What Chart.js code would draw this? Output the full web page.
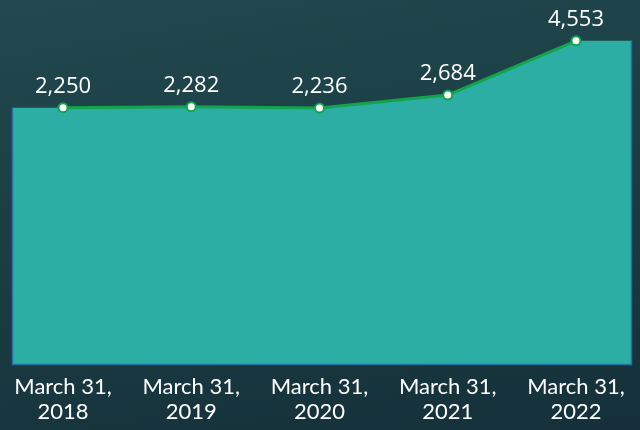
<!DOCTYPE html>
<html>
<head>
<meta charset="utf-8">
<script src="https://cdn.jsdelivr.net/npm/chart.js@4"></script>
<style>
  html, body { margin: 0; padding: 0; }
  body {
    width: 640px; height: 430px;
    background: linear-gradient(170deg, #21494f 0%, #1a3b42 55%, #15303a 100%);
  }
  #wrap { width: 640px; height: 430px; }
</style>
</head>
<body>
<div id="wrap"><canvas id="value-chart"></canvas></div>
<script>
// data
const dates = ["March 31, 2018", "March 31, 2019", "March 31, 2020", "March 31, 2021", "March 31, 2022"];
const values = [2250, 2282, 2236, 2684, 4553];

const areaColor = "#2daea5";
const lineColor = "#12a34c";

// area under the line, running flat out to the plot edges
const areaPlugin = {
  id: "areaFill",
  beforeDatasetsDraw(chart) {
    const { ctx, chartArea } = chart;
    const pts = chart.getDatasetMeta(0).data;
    if (!pts.length) return;
    ctx.save();
    ctx.beginPath();
    ctx.moveTo(chartArea.left, chartArea.bottom);
    ctx.lineTo(chartArea.left, pts[0].y);
    pts.forEach(p => ctx.lineTo(p.x, p.y));
    ctx.lineTo(chartArea.right, pts[pts.length - 1].y);
    ctx.lineTo(chartArea.right, chartArea.bottom);
    ctx.closePath();
    ctx.fillStyle = areaColor;
    ctx.fill();
    // thin blue border left, bottom, right
    ctx.beginPath();
    ctx.moveTo(chartArea.left + 0.5, pts[0].y);
    ctx.lineTo(chartArea.left + 0.5, chartArea.bottom - 0.5);
    ctx.lineTo(chartArea.right - 0.5, chartArea.bottom - 0.5);
    ctx.lineTo(chartArea.right - 0.5, pts[pts.length - 1].y);
    ctx.strokeStyle = "#2a6ea6";
    ctx.lineWidth = 1.5;
    ctx.stroke();
    ctx.restore();
  }
};

// value labels above points
const labelPlugin = {
  id: "valueLabels",
  afterDatasetsDraw(chart) {
    const { ctx } = chart;
    const meta = chart.getDatasetMeta(0);
    ctx.save();
    ctx.font = "22px 'Open Sans', sans-serif";
    ctx.fillStyle = "#ffffff";
    ctx.textAlign = "center";
    ctx.textBaseline = "middle";
    meta.data.forEach((p, i) => {
      ctx.fillText(values[i].toLocaleString("en-US"), p.x, p.y - 21);
    });
    ctx.restore();
  }
};

const canvas = document.querySelector("#value-chart");

const chart = new Chart(canvas, {
  type: "line",
  data: {
    datasets: [
      {
        data: values.map((v, i) => ({ x: i, y: v })),
        borderColor: lineColor,
        borderWidth: 3,
        pointRadius: 4.5,
        pointBorderWidth: 2,
        pointBackgroundColor: "#ffffff",
        pointBorderColor: lineColor,
        fill: false,
        tension: 0,
      },
    ],
  },
  options: {
    responsive: true,
    maintainAspectRatio: false,
    animation: false,
    layout: { padding: { left: 12, right: 8, top: 0, bottom: 5 } },
    plugins: {
      legend: { display: false },
      tooltip: { enabled: false },
    },
    scales: {
      x: {
        type: "linear",
        min: -0.398,
        max: 4.437,
        grid: { display: false, drawTicks: false },
        border: { display: false },
        afterBuildTicks(axis) {
          axis.ticks = dates.map((d, i) => ({ value: i }));
        },
        afterFit(axis) {
          axis.height = 60;
        },
        ticks: {
          autoSkip: false,
          maxRotation: 0,
          padding: 9,
          color: "#ffffff",
          font: { family: "Lato", size: 22, lineHeight: 1.15 },
          callback: (v) => {
            const d = dates[v];
            if (!d) return "";
            const parts = d.split(", ");
            return [parts[0] + ",", parts[1]];
          },
        },
      },
      y: {
        display: false,
        min: -6620,
        max: 5736,
      },
    },
  },
  plugins: [areaPlugin, labelPlugin],
});
</script>
</body>
</html>
